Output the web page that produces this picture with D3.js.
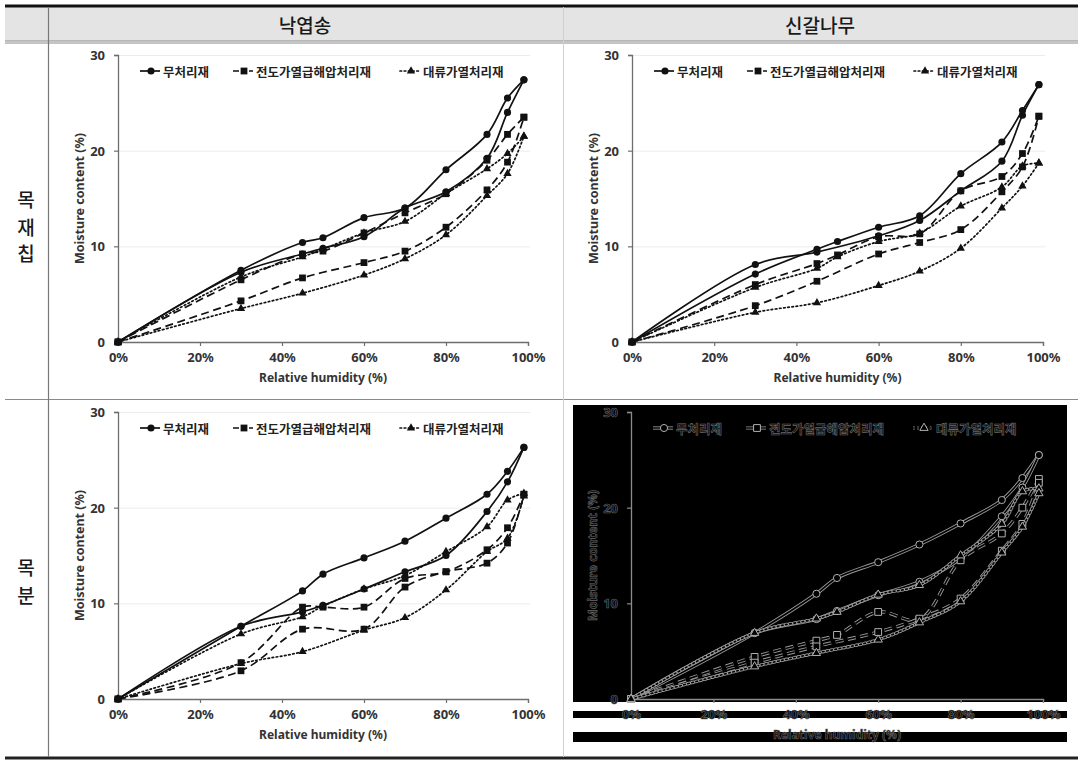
<!DOCTYPE html>
<html><head><meta charset="utf-8">
<script src="https://cdn.jsdelivr.net/npm/d3@7/dist/d3.min.js"></script>
<style>
body{margin:0;background:#fff;}
svg{display:block;font-family:"Noto Sans CJK KR","Noto Sans",sans-serif;}
</style></head>
<body><svg id="c" width="1083" height="761"></svg>
<script>
// ---------- data ----------
const seriesNames = ["무처리재", "전도가열급해압처리재", "대류가열처리재"];
const colHeaders = ["낙엽송", "신갈나무"];
const rowHeaders = ["목재칩", "목분"];
const rhLevels = [0, 30, 45, 50, 60, 70, 80, 90, 95, 99];
const xTickValues = [0, 20, 40, 60, 80, 100];
const yTickValues = [0, 10, 20, 30];
const xTitle = "Relative humidity (%)";
const yTitle = "Moisture content (%)";

// 낙엽송 목재칩
const p1Untreated1 = [0, 7.5, 10.4, 10.9, 13.0, 14.0, 18.0, 21.7, 25.5, 27.4];
const p1Untreated2 = [0, 7.3, 9.2, 9.8, 11.0, 14.0, 15.7, 19.2, 24.0, 27.4];
const p1Conduct1 = [0, 6.5, 9.2, 9.5, 11.4, 13.5, 15.5, 19.0, 21.7, 23.5];
const p1Conduct2 = [0, 4.3, 6.7, null, 8.3, 9.5, 12.0, 15.9, 18.8, 23.5];
const p1Convect1 = [0, 6.8, 8.9, 9.7, 11.4, 12.6, 15.5, 18.1, 19.7, 21.5];
const p1Convect2 = [0, 3.5, 5.1, null, 7.0, 8.7, 11.2, 15.3, 17.6, 21.5];
// 신갈나무 목재칩
const p2Untreated1 = [0, 8.1, 9.4, null, 11.1, 12.7, 15.8, 18.9, 23.7, 26.9];
const p2Untreated2 = [0, 7.1, 9.7, 10.5, 12.0, 13.2, 17.6, 20.9, 24.2, 26.9];
const p2Conduct1 = [0, 6.0, 8.2, 9.1, 11.0, 11.3, 15.8, 17.3, 19.7, 23.6];
const p2Conduct2 = [0, 3.8, 6.35, null, 9.2, 10.4, 11.75, 15.7, 18.3, 23.6];
const p2Convect1 = [0, 5.7, 7.7, 8.9, 10.5, 11.4, 14.2, 16.2, 18.4, 18.7];
const p2Convect2 = [0, 3.1, 4.1, null, 5.9, 7.4, 9.8, 14.0, 16.3, 18.7];
// 낙엽송 목분
const p3Untreated1 = [0, 7.6, 11.3, 13.05, 14.75, 16.5, 18.9, 21.4, 23.8, 26.3];
const p3Untreated2 = [0, 7.6, 9.1, 9.8, 11.5, 13.3, 15.0, 19.6, 22.7, 26.3];
const p3Conduct1 = [0, 3.8, 9.6, 9.6, 9.6, 12.6, 13.3, 15.6, 17.9, 21.4];
const p3Conduct2 = [0, 2.95, 7.3, null, 7.3, 11.7, 13.3, 14.2, 16.3, 21.4];
const p3Convect1 = [0, 6.8, 8.6, 9.7, 11.5, 12.9, 15.4, 18.0, 20.8, 21.5];
const p3Convect2 = [0, 3.7, 4.95, null, 7.2, 8.5, 11.4, 15.4, 16.8, 21.2];
// 신갈나무 목분
const p4Untreated1 = [0, 6.9, 11.0, 12.65, 14.3, 16.15, 18.35, 20.8, 23.1, 25.5];
const p4Untreated2 = [0, 6.9, 8.35, 9.2, 10.85, 12.25, 14.7, 19.1, 22.1, 25.5];
const p4Conduct1 = [0, 4.4, 6.1, 6.7, 9.1, 8.3, 14.5, 17.3, 20.0, 23.0];
const p4Conduct2 = [0, 3.8, 5.5, null, 7.0, 8.4, 10.5, 15.5, 18.3, 22.6];
const p4Convect1 = [0, 6.9, 8.4, 9.1, 10.9, 11.9, 15.0, 18.3, 21.7, 22.0];
const p4Convect2 = [0, 3.4, 4.8, null, 6.2, 8.0, 10.2, 15.3, 18.0, 21.5];

// ---------- layout ----------
const svg = d3.select("#c");

// table frame
svg.append("rect").attr("x", 5).attr("y", 7).attr("width", 1073).attr("height", 34).attr("fill", "#e4e4e4");
svg.append("line").attr("x1", 5).attr("x2", 1078).attr("y1", 6).attr("y2", 6).attr("stroke", "#111").attr("stroke-width", 3);
svg.append("line").attr("x1", 5).attr("x2", 1078).attr("y1", 41).attr("y2", 41).attr("stroke", "#8a8a8a").attr("stroke-width", 1);
svg.append("line").attr("x1", 5).attr("x2", 1078).attr("y1", 43).attr("y2", 43).attr("stroke", "#8a8a8a").attr("stroke-width", 1);
svg.append("line").attr("x1", 5).attr("x2", 1078).attr("y1", 399.5).attr("y2", 399.5).attr("stroke", "#8a8a8a").attr("stroke-width", 1.2);
svg.append("line").attr("x1", 5).attr("x2", 1078).attr("y1", 758).attr("y2", 758).attr("stroke", "#222").attr("stroke-width", 3);
svg.append("line").attr("x1", 48.5).attr("x2", 48.5).attr("y1", 7).attr("y2", 757).attr("stroke", "#777").attr("stroke-width", 1.2);
svg.append("line").attr("x1", 563.5).attr("x2", 563.5).attr("y1", 7).attr("y2", 757).attr("stroke", "#d0d0d0").attr("stroke-width", 1);

[305, 820].forEach((cx, i) => {
  svg.append("text").attr("x", cx).attr("y", 24).attr("text-anchor", "middle").attr("dominant-baseline", "central")
    .attr("font-size", 19).attr("font-weight", 500).attr("fill", "#1a1a1a").text(colHeaders[i]);
});
const rowCenters = [[198, 226, 252], [566, 594]];
rowHeaders.forEach((lbl, i) => {
  Array.from(lbl).forEach((ch, j) => {
    svg.append("text").attr("x", 26).attr("y", rowCenters[i][j]).attr("text-anchor", "middle")
      .attr("dominant-baseline", "central").attr("font-size", 19).attr("font-weight", 500).attr("fill", "#1a1a1a").text(ch);
  });
});

// ---------- panels ----------
const styles = [
  {dash: null, symbol: d3.symbolCircle, size: 40},
  {dash: "8,4.5", symbol: d3.symbolSquare, size: 46},
  {dash: "1.6,2.6", symbol: d3.symbolTriangle, size: 30}
];

const panels = [
  {x0: 118, x1: 528, y0: 342, y1: 55, inv: false, data: [[p1Untreated1, p1Untreated2], [p1Conduct1, p1Conduct2], [p1Convect1, p1Convect2]]},
  {x0: 632, x1: 1043, y0: 342, y1: 55, inv: false, data: [[p2Untreated1, p2Untreated2], [p2Conduct1, p2Conduct2], [p2Convect1, p2Convect2]]},
  {x0: 118, x1: 528, y0: 699, y1: 412, inv: false, data: [[p3Untreated1, p3Untreated2], [p3Conduct1, p3Conduct2], [p3Convect1, p3Convect2]]},
  {x0: 631, x1: 1043, y0: 699, y1: 412, inv: true, data: [[p4Untreated1, p4Untreated2], [p4Conduct1, p4Conduct2], [p4Convect1, p4Convect2]]}
];

function styleText(sel, inv, color) {
  if (inv) sel.attr("fill", "#0a0a0a").attr("stroke", "#6a6a6a").attr("stroke-width", 0.6);
  else sel.attr("fill", color || "#222");
  return sel;
}

panels.forEach(p => {
  const g = svg.append("g");
  const x = d3.scaleLinear().domain([0, 100]).range([p.x0, p.x1]);
  const y = d3.scaleLinear().domain([0, 30]).range([p.y0, p.y1]);
  const axisCol = p.inv ? "#8c8c8c" : "#6e6e6e";

  if (p.inv) {
    g.append("rect").attr("x", 573).attr("y", 405).attr("width", 494).attr("height", 297).attr("fill", "#000");
    g.append("rect").attr("x", 573).attr("y", 711).attr("width", 494).attr("height", 7).attr("fill", "#000");
    g.append("rect").attr("x", 573).attr("y", 732).attr("width", 494).attr("height", 10).attr("fill", "#000");
  }

  if (!p.inv) {
    g.append("g").selectAll("line").data(yTickValues.filter(v => v > 0)).join("line")
      .attr("x1", p.x0).attr("x2", p.x1 + 2).attr("y1", d => y(d) + 0.5).attr("y2", d => y(d) + 0.5)
      .attr("stroke", "#ececec").attr("stroke-width", 1);
  }

  const ya = g.append("g").attr("transform", `translate(${p.x0},0)`)
    .call(d3.axisLeft(y).tickValues(yTickValues).tickSize(4).tickPadding(9).tickFormat(d3.format("d")));
  const xa = g.append("g").attr("transform", `translate(0,${p.y0})`)
    .call(d3.axisBottom(x).tickValues(xTickValues).tickSize(4).tickPadding(7).tickFormat(d => d + "%"));
  [ya, xa].forEach(a => {
    a.select(".domain").attr("stroke", axisCol).attr("stroke-width", 1.3);
    a.selectAll(".tick line").attr("stroke", axisCol).attr("stroke-width", 1.2);
    const t = a.selectAll(".tick text").attr("font-size", 13).attr("font-weight", 700)
      .attr("font-family", '"Noto Sans","Open Sans",sans-serif');
    styleText(t, p.inv, "#333");
  });
  ya.selectAll(".tick text").attr("dy", "0.35em");

  styleText(g.append("text").attr("x", (p.x0 + p.x1) / 2).attr("y", p.y0 + 40)
    .attr("text-anchor", "middle").attr("font-size", 12).attr("font-weight", 700)
    .attr("font-family", '"Noto Sans","Open Sans",sans-serif').text(xTitle), p.inv, "#333");
  styleText(g.append("text").attr("transform", `translate(${p.x0 - 39},${(p.y0 + p.y1) / 2}) rotate(-90)`)
    .attr("text-anchor", "middle").attr("dominant-baseline", "central").attr("font-size", 12.5).attr("font-weight", 700)
    .attr("font-family", '"Noto Sans","Open Sans",sans-serif').text(yTitle), p.inv, "#333");

  const line = d3.line().defined(d => d.v != null).x(d => x(d.rh)).y(d => y(d.v)).curve(d3.curveCatmullRom.alpha(0.5));
  p.data.forEach((pair, si) => {
    const st = styles[si];
    pair.forEach(arr => {
      const pts = rhLevels.map((rh, i) => ({rh, v: arr[i]})).filter(d => d.v != null);
      const cap = si === 2 ? "round" : "butt";
      if (p.inv) {
        g.append("path").datum(pts).attr("d", line).attr("fill", "none").attr("stroke", "#9a9a9a")
          .attr("stroke-width", 3.4).attr("stroke-dasharray", st.dash).attr("stroke-linecap", cap);
        g.append("path").datum(pts).attr("d", line).attr("fill", "none").attr("stroke", "#000")
          .attr("stroke-width", 1.6).attr("stroke-dasharray", st.dash).attr("stroke-linecap", cap);
      } else {
        g.append("path").datum(pts).attr("d", line).attr("fill", "none").attr("stroke", "#111")
          .attr("stroke-width", 1.7).attr("stroke-dasharray", st.dash).attr("stroke-linecap", cap);
      }
      g.append("g").selectAll("path").data(pts).join("path")
        .attr("transform", d => `translate(${x(d.rh)},${y(d.v)})`)
        .attr("d", d3.symbol().type(st.symbol).size(st.size))
        .attr("fill", p.inv ? "#000" : "#111").attr("stroke", p.inv ? "#b0b0b0" : "none").attr("stroke-width", 1);
    });
  });

  const legOffsets = [22, 115, 282];
  const ly = p.y1 + 16;
  seriesNames.forEach((name, si) => {
    const st = styles[si];
    const lx = p.x0 + legOffsets[si];
    if (p.inv) {
      g.append("line").attr("x1", lx).attr("x2", lx + 20).attr("y1", ly).attr("y2", ly)
        .attr("stroke", "#9a9a9a").attr("stroke-width", 3.2).attr("stroke-dasharray", st.dash);
      g.append("line").attr("x1", lx).attr("x2", lx + 20).attr("y1", ly).attr("y2", ly)
        .attr("stroke", "#000").attr("stroke-width", 1.5).attr("stroke-dasharray", st.dash);
    } else {
      g.append("line").attr("x1", lx).attr("x2", lx + 20).attr("y1", ly).attr("y2", ly)
        .attr("stroke", "#111").attr("stroke-width", 1.7).attr("stroke-dasharray", si === 1 ? "6,2" : st.dash)
        .attr("stroke-linecap", si === 2 ? "round" : "butt");
    }
    g.append("path").attr("transform", `translate(${lx + 11},${ly})`)
      .attr("d", d3.symbol().type(st.symbol).size(st.size))
      .attr("fill", p.inv ? "#000" : "#111").attr("stroke", p.inv ? "#b0b0b0" : "none");
    styleText(g.append("text").attr("x", lx + 23).attr("y", ly).attr("dominant-baseline", "central")
      .attr("font-size", 12.5).attr("font-weight", 700).text(name), p.inv, "#222");
  });
});
</script>
</body></html>
